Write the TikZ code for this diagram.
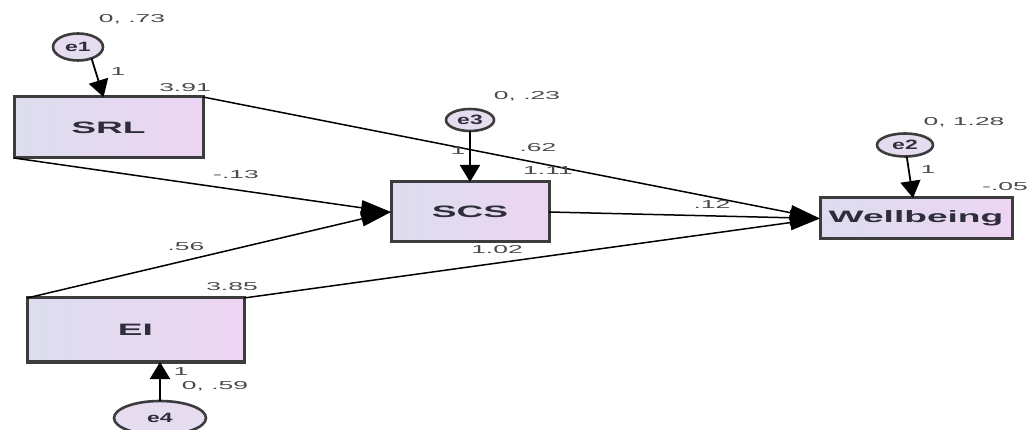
\documentclass[tikz,border=0pt]{standalone}
\usepackage{graphicx}
\usepackage{fontspec}
\setmainfont{Liberation Sans}
\usetikzlibrary{arrows.meta,shapes.geometric}

\definecolor{boxline}{HTML}{3C3C3C}
\definecolor{boxleft}{HTML}{DCDDEE}
\definecolor{boxright}{HTML}{EDD5F3}
\definecolor{errfill}{HTML}{E6DCF0}
\definecolor{labgray}{HTML}{4A4A4A}
\definecolor{txtgray}{HTML}{2E2E3A}

\newcommand{\widetxt}[2][2.25]{\scalebox{#1}[1]{#2}}

\begin{document}
\begin{tikzpicture}[x=1pt, y=-1pt,
  var/.style={draw=boxline, line width=3pt, left color=boxleft, right color=boxright,
    outer sep=0pt, text=txtgray, font=\bfseries\fontsize{16.5}{18}\selectfont},
  err/.style={ellipse, draw=boxline, line width=2.6pt, fill=errfill, inner sep=0pt,
    outer sep=0pt, text=txtgray, font=\bfseries\fontsize{13.5}{15}\selectfont},
  path/.style={line width=1.5pt, -{Triangle[length=30pt, width=15pt]}},
  fix/.style={line width=1.8pt, -{Triangle[length=17pt, width=20pt]}},
  lab/.style={text=labgray, inner sep=0pt, font=\fontsize{11.5}{13}\selectfont}]
  \useasboundingbox (0,0) rectangle (1031,430);

  % observed variables
  \node[var, minimum width=189pt, minimum height=61pt] (SRL) at (108.5,127.5) {\widetxt{SRL}};
  \node[var, minimum width=158pt, minimum height=60pt] (SCS) at (470,212) {\widetxt{SCS}};
  \node[var, minimum width=192pt, minimum height=41pt] (WB) at (916,218.5) {\widetxt{Wellbeing}};
  \node[var, minimum width=217pt, minimum height=64pt] (EI) at (135.5,330) {\widetxt{EI}};

  % error terms
  \node[err, minimum width=50pt, minimum height=27pt] (e1) at (78,47) {\widetxt[1.7]{e1}};
  \node[err, minimum width=48pt, minimum height=22pt] (e3) at (470,120) {\widetxt[1.7]{e3}};
  \node[err, minimum width=56pt, minimum height=23pt] (e2) at (905,145) {\widetxt[1.7]{e2}};
  \node[err, minimum width=92pt, minimum height=34pt] (e4) at (160,418) {\widetxt[1.7]{e4}};

  % paths
  \draw[path] (SRL.south west) -- (SCS.west);
  \draw[path] (EI.north west) -- (SCS.west);
  \draw[path] (SRL.north east) -- (WB.west);
  \draw[path] (SCS.east) -- (WB.west);
  \draw[path] (EI.north east) -- (WB.west);

  \draw[fix] (e1.-40) -- ([xshift=-5pt]SRL.north);
  \draw[fix] (e3) -- (SCS.north);
  \draw[fix] (e2) -- ([xshift=-3pt]WB.north);
  \draw[fix] (e4) -- (e4 |- EI.south);

  % estimates
  \node[lab] (v1) at (132,19) {\widetxt[2.3]{0, .73}};
  \node[lab] (w1) at (118,72) {\widetxt[2.3]{1}};
  \node[lab] (m1) at (185,88) {\widetxt[2.3]{3.91}};
  \node[lab] (v3) at (527,96) {\widetxt[2.3]{0, .23}};
  \node[lab] (w3) at (458,151) {\widetxt[2.3]{1}};
  \node[lab] (b3) at (538,148) {\widetxt[2.3]{.62}};
  \node[lab] (m3) at (548,171) {\widetxt[2.3]{1.11}};
  \node[lab] (v2) at (964,122) {\widetxt[2.3]{0, 1.28}};
  \node[lab] (w2) at (928,170) {\widetxt[2.3]{1}};
  \node[lab] (m2) at (1005,187) {\widetxt[2.3]{-.05}};
  \node[lab] (b1) at (236,175) {\widetxt[2.3]{-.13}};
  \node[lab] (b4) at (712,204) {\widetxt[2.3]{.12}};
  \node[lab] (b2) at (186,247) {\widetxt[2.3]{.56}};
  \node[lab] (b5) at (497,250) {\widetxt[2.3]{1.02}};
  \node[lab] (m4) at (232,287) {\widetxt[2.3]{3.85}};
  \node[lab] (w4) at (181,372) {\widetxt[2.3]{1}};
  \node[lab] (v4) at (215,386) {\widetxt[2.3]{0, .59}};
\end{tikzpicture}
\end{document}
